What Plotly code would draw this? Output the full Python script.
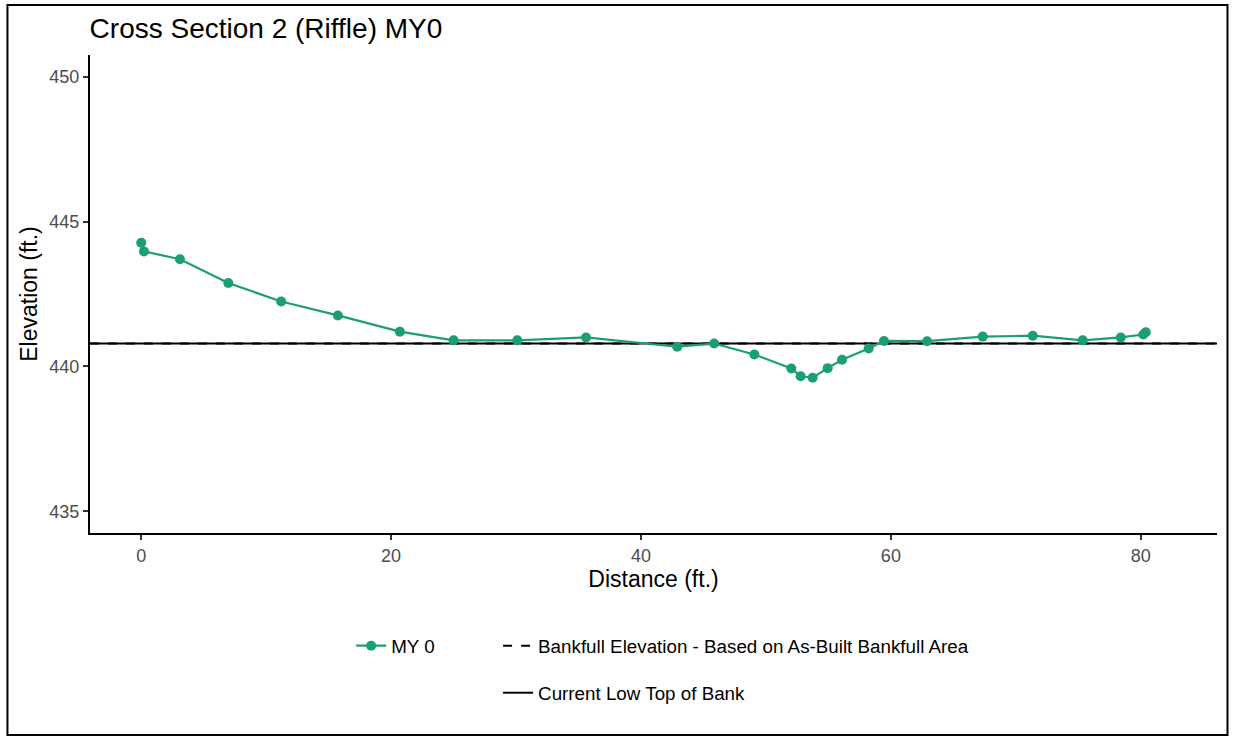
import plotly.graph_objects as go

# ---- data ----
distance_ft = [0.0, 0.22, 3.1, 6.97, 11.2, 15.74, 20.7, 25.0, 30.1, 35.6,
               42.9, 45.85, 49.07, 52.03, 52.78, 53.74, 54.94, 56.09, 58.22,
               59.45, 62.9, 67.35, 71.35, 75.35, 78.4, 80.2, 80.4]
elevation_ft = [444.27, 443.97, 443.70, 442.88, 442.24, 441.76, 441.20, 440.90,
                440.90, 441.00, 440.68, 440.79, 440.41, 439.93, 439.66, 439.61,
                439.94, 440.23, 440.62, 440.88, 440.87, 441.03, 441.06, 440.90,
                441.00, 441.10, 441.18]
bankfull_elev = 440.79
low_top_of_bank = 440.79

x_limits = [0, 82]
y_limits = [435, 450]
x_ticks = [0, 20, 40, 60, 80]
y_ticks = [435, 440, 445, 450]

series_name = "MY 0"
bankfull_name = "Bankfull Elevation - Based on As-Built Bankfull Area"
tob_name = "Current Low Top of Bank"
title_text = "Cross Section 2 (Riffle) MY0"
x_title = "Distance (ft.)"
y_title = "Elevation (ft.)"

# ggplot-style 5% expansion
def expand(lim, f=0.05):
    d = (lim[1] - lim[0]) * f
    return [lim[0] - d, lim[1] + d]

xr = expand(x_limits)
yr = expand(y_limits)

GREEN = "#1B9E77"
FONT = "Liberation Sans, Arial, Helvetica, sans-serif"

fig = go.Figure()

fig.add_trace(go.Scatter(
    x=xr, y=[bankfull_elev, bankfull_elev], mode="lines", name=bankfull_name,
    line=dict(color="black", width=2, dash="dash"), legend="legend2",
    hoverinfo="skip"))
fig.add_trace(go.Scatter(
    x=xr, y=[low_top_of_bank, low_top_of_bank], mode="lines", name=tob_name,
    line=dict(color="black", width=2), legend="legend3", hoverinfo="skip"))
fig.add_trace(go.Scatter(
    x=distance_ft, y=elevation_ft, mode="lines+markers", name=series_name,
    line=dict(color=GREEN, width=2.2), marker=dict(color=GREEN, size=10),
    legend="legend"))

L, R, T, B = 89.6, 1217.5, 55, 533
W, H = 1233, 738
pw, ph = R - L, B - T

def px_x(p):
    return (p - L) / pw

def px_y(p):
    return (B - p) / ph

legend_common = dict(orientation="v", xanchor="left", yanchor="middle",
                     bgcolor="rgba(0,0,0,0)", borderwidth=0,
                     font=dict(family=FONT, size=18.8, color="black"))

fig.update_layout(
    width=W, height=H,
    margin=dict(l=L, r=W - R, t=T, b=H - B, pad=0),
    paper_bgcolor="white", plot_bgcolor="white",
    font=dict(family=FONT, color="black"),
    title=dict(text=title_text, x=L / W, xanchor="left", xref="container",
               y=1 - 28 / H, yanchor="middle",
               font=dict(family=FONT, size=28, color="black")),
    xaxis=dict(range=xr, tickvals=x_ticks, showgrid=False, zeroline=False,
               showline=True, linecolor="black", linewidth=2,
               ticks="outside", ticklen=5, tickwidth=1.5, tickcolor="#333333",
               tickfont=dict(family=FONT, size=18, color="#4D4D4D"),
               title=dict(text=x_title, standoff=6,
                          font=dict(family=FONT, size=23, color="black"))),
    yaxis=dict(range=yr, tickvals=y_ticks, showgrid=False, zeroline=False,
               showline=True, linecolor="black", linewidth=2,
               ticks="outside", ticklen=5, tickwidth=1.5, tickcolor="#333333",
               tickfont=dict(family=FONT, size=18, color="#4D4D4D"),
               title=dict(text=y_title, standoff=5,
                          font=dict(family=FONT, size=23, color="black"))),
    legend=dict(x=px_x(351), y=px_y(646), **legend_common),
    legend2=dict(x=px_x(498), y=px_y(646), **legend_common),
    legend3=dict(x=px_x(498), y=px_y(693), **legend_common),
    showlegend=True,
    shapes=[dict(type="rect", xref="paper", yref="paper",
                 x0=px_x(7), x1=px_x(1228), y0=px_y(735), y1=px_y(5),
                 line=dict(color="black", width=2), fillcolor="rgba(0,0,0,0)",
                 layer="below")],
)

fig.write_html("out.html",
               config={"displayModeBar": False},
               post_script="document.body.style.margin='0';"
                           "document.body.style.padding='0';")
